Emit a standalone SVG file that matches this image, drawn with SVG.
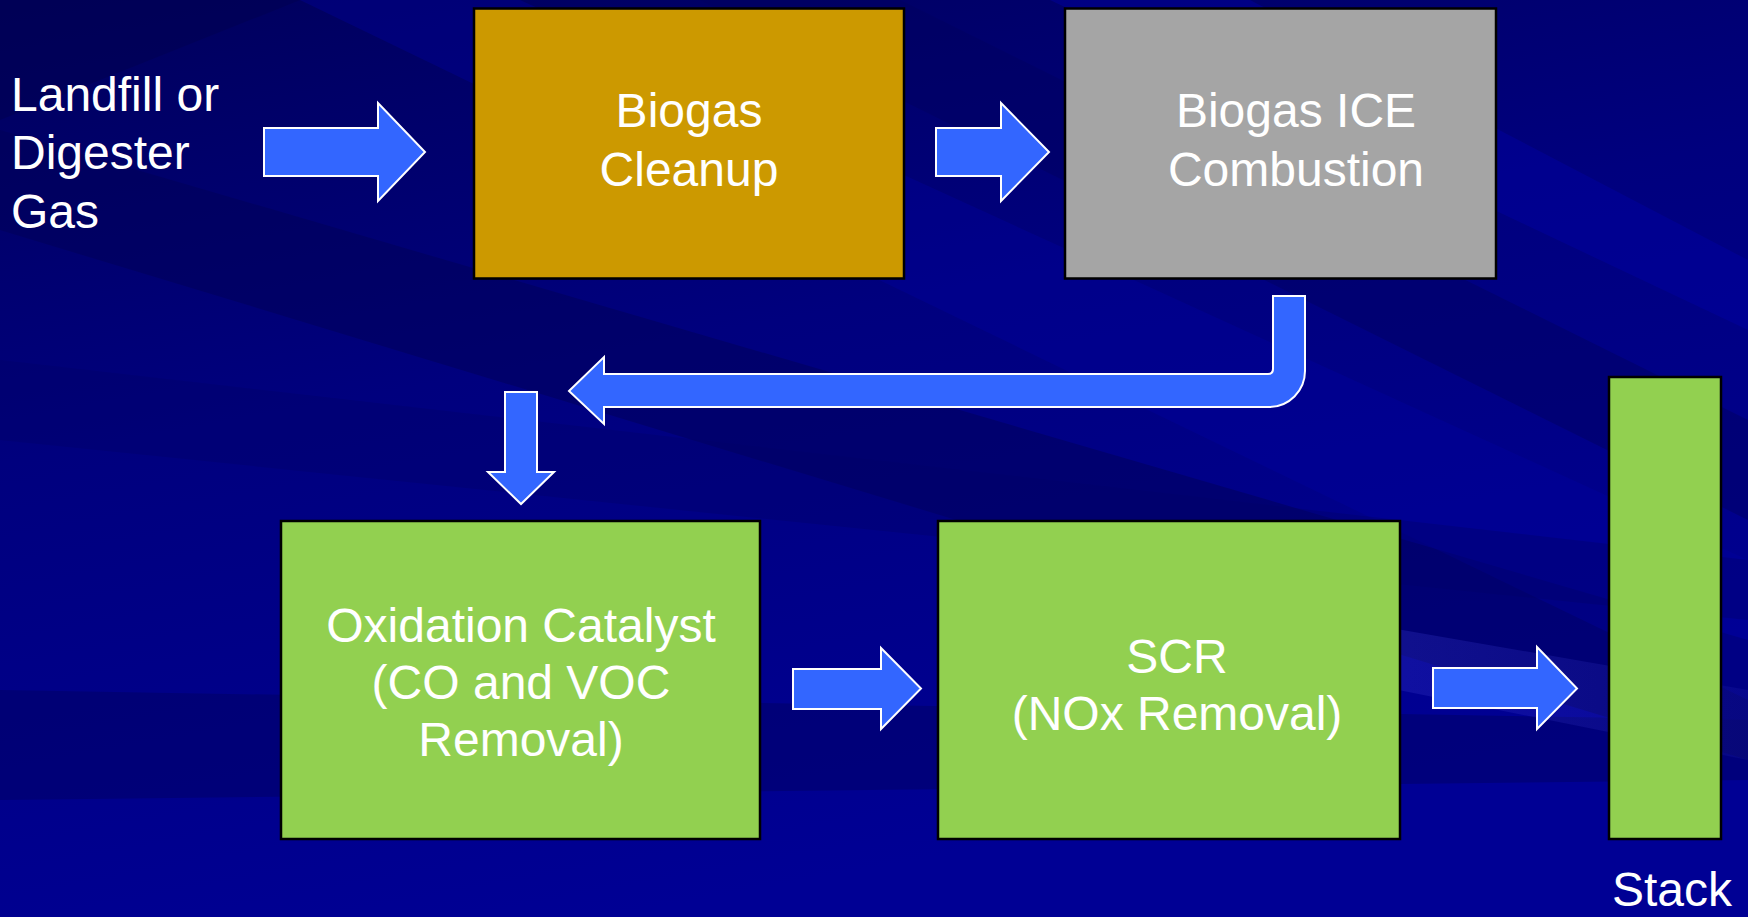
<svg xmlns="http://www.w3.org/2000/svg" width="1748" height="917" viewBox="0 0 1748 917">
  <defs>
    <linearGradient id="bg" x1="0" y1="0" x2="0.35" y2="1">
      <stop offset="0" stop-color="#00005C"/>
      <stop offset="0.45" stop-color="#00007E"/>
      <stop offset="1" stop-color="#000094"/>
    </linearGradient>
    <linearGradient id="streakL" x1="0" y1="0" x2="1" y2="0">
      <stop offset="0" stop-color="#3030C0" stop-opacity="0"/>
      <stop offset="0.5" stop-color="#3030C0" stop-opacity="0.35"/>
      <stop offset="1" stop-color="#3030C0" stop-opacity="0.15"/>
    </linearGradient>
    <style>
      .box { stroke: #000000; stroke-width: 2.5; }
      .arrow { fill: #3366FF; stroke: #FFFFFF; stroke-width: 2; stroke-linejoin: miter; }
      .lbl { fill: #FFFFFF; font-family: "Liberation Sans", Arial, sans-serif; font-size: 48px; }
      .mid { text-anchor: middle; }
    </style>
  </defs>

  <!-- background -->
  <rect x="0" y="0" width="1748" height="917" fill="url(#bg)"/>
  <g id="background-streaks">
    <polygon points="0,130 0,230 1748,760 1748,640" fill="#000055" opacity="0.45"/>
    <polygon points="300,0 520,0 1748,560 1748,700" fill="#0000A0" opacity="0.35"/>
    <polygon points="700,0 900,0 1748,420 1748,520" fill="#000060" opacity="0.45"/>
    <polygon points="1050,0 1250,0 1748,260 1748,330" fill="#0000A8" opacity="0.4"/>
    <polygon points="0,360 0,440 1748,620 1748,560" fill="#000066" opacity="0.35"/>
    <polygon points="0,690 0,800 1748,780 1748,720" fill="#000060" opacity="0.45"/>
    <polygon points="1000,560 1748,690 1748,760 1000,610" fill="url(#streakL)"/>
    <polygon points="0,0 300,0 0,120" fill="#000050" opacity="0.5"/>
  </g>

  <!-- connectors -->
  <g id="connectors">
    <path class="arrow" d="M264,128 H378 V103 L425,152 L378,201 V176 H264 Z"/>
    <path class="arrow" d="M936,128 H1001 V103 L1049,152 L1001,201 V176 H936 Z"/>
    <path class="arrow" d="M569,391 L604,357 V374 H1268 Q1273,374 1273,369 V296 H1305 V371 A36,36 0 0 1 1269,407 H604 V424 Z"/>
    <path class="arrow" d="M505,392 H537 V472 H554 L521,504 L488,472 H505 Z"/>
    <path class="arrow" d="M793,669 H881 V648 L921,688.5 L881,729 V709 H793 Z"/>
    <path class="arrow" d="M1433,668 H1537 V647 L1577,688.5 L1537,729 V708 H1433 Z"/>
  </g>

  <g id="source">
    <text class="lbl" x="11" y="111">Landfill or</text>
    <text class="lbl" x="11" y="169">Digester</text>
    <text class="lbl" x="11" y="228">Gas</text>
  </g>

  <g id="cleanup">
    <rect class="box" x="474" y="8.5" width="430" height="270" fill="#CC9900"/>
    <text class="lbl mid" x="689" y="127">Biogas</text>
    <text class="lbl mid" x="689" y="186">Cleanup</text>
  </g>

  <g id="combustion">
    <rect class="box" x="1065" y="8.5" width="431" height="270" fill="#A5A5A5"/>
    <text class="lbl mid" x="1296" y="127">Biogas ICE</text>
    <text class="lbl mid" x="1296" y="186">Combustion</text>
  </g>

  <g id="oxidation">
    <rect class="box" x="281" y="521" width="479" height="318" fill="#92D050"/>
    <text class="lbl mid" x="521" y="642">Oxidation Catalyst</text>
    <text class="lbl mid" x="521" y="699">(CO and VOC</text>
    <text class="lbl mid" x="521" y="756">Removal)</text>
  </g>

  <g id="scr">
    <rect class="box" x="938" y="521" width="462" height="318" fill="#92D050"/>
    <text class="lbl mid" x="1177" y="673">SCR</text>
    <text class="lbl mid" x="1177" y="730">(NOx Removal)</text>
  </g>

  <g id="stack">
    <rect class="box" x="1609" y="377" width="112" height="462" fill="#92D050"/>
    <text class="lbl" x="1612" y="906">Stack</text>
  </g>
</svg>
